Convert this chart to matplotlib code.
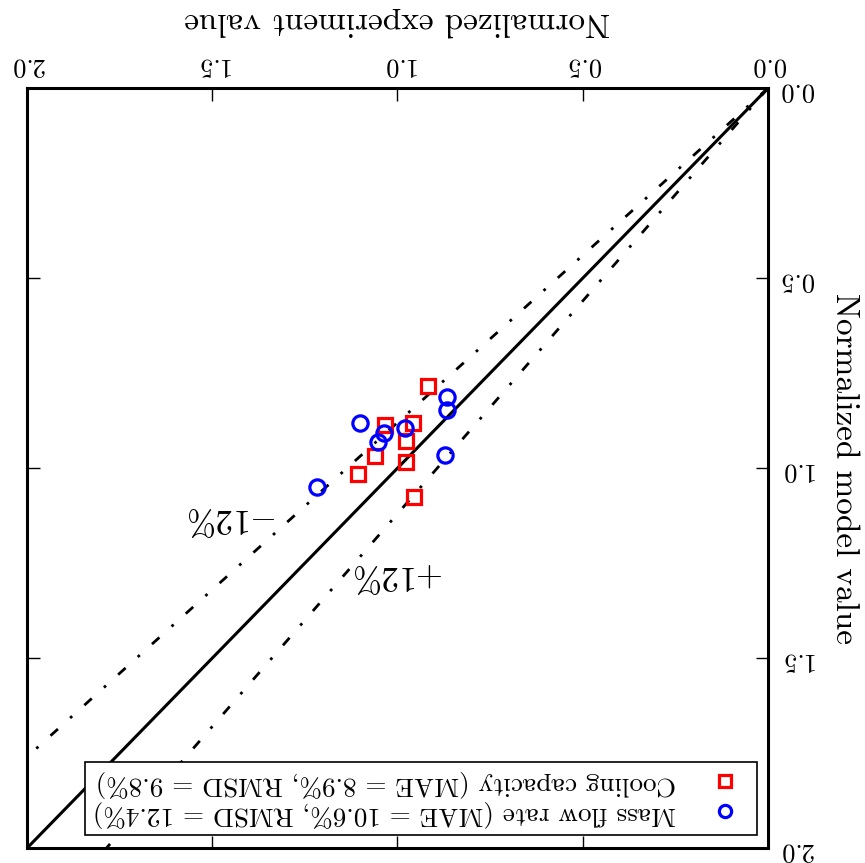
import matplotlib
matplotlib.use("Agg")
import matplotlib.pyplot as plt
import numpy as np

plt.rcParams["font.family"] = "serif"
plt.rcParams["font.serif"] = ["cmr10", "DejaVu Serif"]
plt.rcParams["mathtext.fontset"] = "cm"
plt.rcParams["axes.formatter.use_mathtext"] = True

# experiment (x) vs model (y), normalized
cool_exp = [0.918, 1.034, 0.958, 0.978, 1.060, 0.978, 1.107, 0.956]
cool_mod = [0.784, 0.887, 0.881, 0.928, 0.968, 0.983, 1.016, 1.076]
flow_exp = [0.866, 0.866, 1.102, 0.981, 1.037, 1.053, 0.871, 1.216]
flow_mod = [0.812, 0.846, 0.882, 0.893, 0.907, 0.932, 0.965, 1.049]
ticks = [0.0, 0.5, 1.0, 1.5, 2.0]
band = 0.12

fig = plt.figure(figsize=(8.65, 8.63), dpi=100)
ax = fig.add_axes([0.031, 0.017, 0.857, 0.881])

# the whole chart is shown turned upside down
ax.set_xlim(2.0, 0.0)
ax.set_ylim(2.0, 0.0)

xx = np.array([0.0, 2.0])
dash = (0, (3.6, 5.9, 1.0, 5.9))
ax.plot(xx, xx, color="black", lw=2.2)
ax.plot(xx, xx * (1 - band), color="black", lw=2.0, linestyle=dash, dash_capstyle="butt")
ax.plot(xx, xx * (1 + band), color="black", lw=2.0, linestyle=dash, dash_capstyle="butt")

ax.plot(cool_exp, cool_mod, "s", ls="none", mfc="none", mec="red", mew=2.3, ms=10.5,
        label="Cooling capacity (MAE = 8.9%, RMSD = 9.8%)")
ax.plot(flow_exp, flow_mod, "o", ls="none", mfc="none", mec="blue", mew=2.3, ms=11,
        label="Mass flow rate (MAE = 10.6%, RMSD = 12.4%)")

ax.text(1.445, 1.132, r"$-12\%$", fontsize=25, rotation=180, ha="center", va="center")
ax.text(0.997, 1.284, r"$+12\%$", fontsize=25, rotation=180, ha="center", va="center")

ax.set_xticks(ticks)
ax.set_yticks(ticks)
ax.set_xticklabels([f"{t:.1f}" for t in ticks])
ax.set_yticklabels([f"{t:.1f}" for t in ticks])
ax.tick_params(direction="in", length=9, width=1, top=True, bottom=True, left=True, right=True,
               labeltop=True, labelbottom=False, labelright=True, labelleft=False,
               labelsize=19, labelrotation=180, pad=8)
for s in ax.spines.values():
    s.set_linewidth(2.2)

ax.xaxis.set_label_position("top")
ax.yaxis.set_label_position("right")
ax.set_xlabel("Normalized experiment value", fontsize=24, rotation=180, labelpad=16)
ax.set_ylabel("Normalized model value", fontsize=24, rotation=270, labelpad=12, va="bottom")

leg = ax.legend(loc="lower right", bbox_to_anchor=(0.985, 0.017), borderaxespad=0,
                markerfirst=False, fontsize=19.5, fancybox=False, framealpha=1,
                edgecolor="black", handlelength=1.8, handletextpad=0.9, borderpad=0.3,
                labelspacing=0.12, markerscale=0.8)
leg.get_frame().set_linewidth(1.2)
for t in leg.get_texts():
    t.set_rotation(180)

fig.savefig("out.png", dpi=100)
